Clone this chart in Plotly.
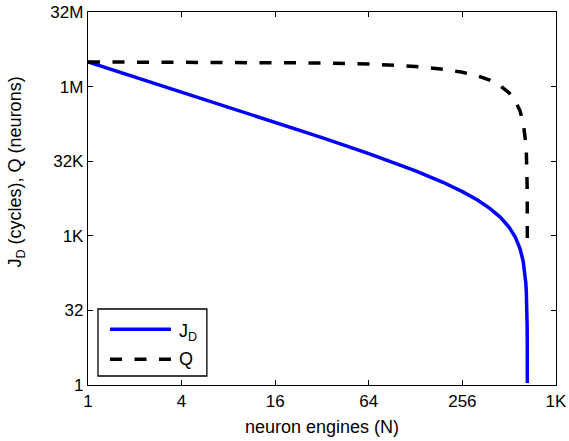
import plotly.graph_objects as go

# Neuron count Q and per-engine cycle count J_D versus number of neuron engines N
q_engines = [1, 2, 4, 8, 16, 32, 64, 128, 192, 256, 320, 384, 448, 512, 560,
             600, 630, 645, 655, 660, 664, 666, 668, 669, 669.5, 669.88]
q_neurons = [3.30e6, 3.29e6, 3.28e6, 3.26e6, 3.22e6, 3.14e6, 2.985e6, 2.67e6,
             2.355e6, 2.04e6, 1.725e6, 1.41e6, 1.095e6, 7.8e5, 5.42e5, 3.45e5,
             1.97e5, 1.23e5, 7.4e4, 4.9e4, 2.95e4, 1.97e4, 9.85e3, 4.9e3, 2.7e3, 840]

j_engines = [1, 2, 4, 8, 16, 32, 64, 128, 192, 256, 320, 384, 448, 512, 560,
             600, 630, 645, 655, 660, 664, 666, 668, 669, 669.5, 669.8, 669.9]
j_cycles = [3.30e6, 1.645e6, 8.2e5, 4.075e5, 2.01e5, 9.81e4, 4.66e4, 2.09e4,
            1.23e4, 7970, 5390, 3670, 2440, 1520, 968, 575, 313, 191, 113, 74,
            44.4, 29.6, 14.7, 7.3, 4.05, 1.84, 1.1]

x_tickvals = [1, 4, 16, 64, 256, 1024]
x_ticktext = ["1", "4", "16", "64", "256", "1K"]
y_tickvals = [1, 32, 1024, 32768, 1048576, 33554432]
y_ticktext = ["1", "32", "1K", "32K", "1M", "32M"]

FONT = "Liberation Sans, Arial, Helvetica, sans-serif"
FS_TICK = 17
FS = 18
BLUE = "#0000ff"
DASH = "12px,12.5px"

fig = go.Figure()
fig.add_trace(go.Scatter(x=j_engines, y=j_cycles, mode="lines", name="J_D",
                         line=dict(color=BLUE, width=3.5), showlegend=False))
fig.add_trace(go.Scatter(x=q_engines, y=q_neurons, mode="lines", name="Q",
                         line=dict(color="black", width=3.5, dash=DASH),
                         showlegend=False))

axis_common = dict(
    type="log", showgrid=False, zeroline=False, automargin=False,
    showline=True, linecolor="black", linewidth=1.3, mirror="allticks",
    ticks="inside", ticklen=5, tickwidth=1, tickcolor="black",
    tickfont=dict(family=FONT, size=FS_TICK, color="black"),
)
fig.update_xaxes(range=[0, 3.0103], tickvals=x_tickvals, ticktext=x_ticktext,
                 **axis_common)
fig.update_yaxes(range=[0, 7.5257], tickvals=y_tickvals, ticktext=y_ticktext,
                 **axis_common)

# Legend box drawn in paper coordinates
fig.add_shape(type="rect", xref="paper", yref="paper",
              x0=0.0213, x1=0.254, y0=0.0241, y1=0.2038,
              line=dict(color="black", width=1.3), fillcolor="white", layer="above")
fig.add_shape(type="line", xref="paper", yref="paper",
              x0=0.047, x1=0.1772, y0=0.1493, y1=0.1493,
              line=dict(color=BLUE, width=3.5), layer="above")
fig.add_shape(type="line", xref="paper", yref="paper",
              x0=0.047, x1=0.1772, y0=0.0689, y1=0.0689,
              line=dict(color="black", width=3.5, dash=DASH), layer="above")

annotations = [
    dict(text="J<sub>D</sub>", x=0.19, y=0.1493, xanchor="left", yanchor="middle",
         yshift=-3),
    dict(text="Q", x=0.19, y=0.0689, xanchor="left", yanchor="middle"),
    dict(text="neuron engines (N)", x=0.5, y=-0.08, xanchor="center", yanchor="top"),
    dict(text="J<sub>D</sub> (cycles), Q (neurons)", x=-0.152, y=0.572,
         xanchor="center", yanchor="middle", textangle=-90),
]
for a in annotations:
    fig.add_annotation(xref="paper", yref="paper", showarrow=False,
                       font=dict(family=FONT, size=FS, color="black"), **a)

fig.update_layout(
    width=569, height=441,
    margin=dict(l=88, r=12.5, t=12, b=56, autoexpand=False),
    paper_bgcolor="white", plot_bgcolor="white",
    font=dict(family=FONT, size=FS, color="black"),
)

fig.write_html("out.html")
